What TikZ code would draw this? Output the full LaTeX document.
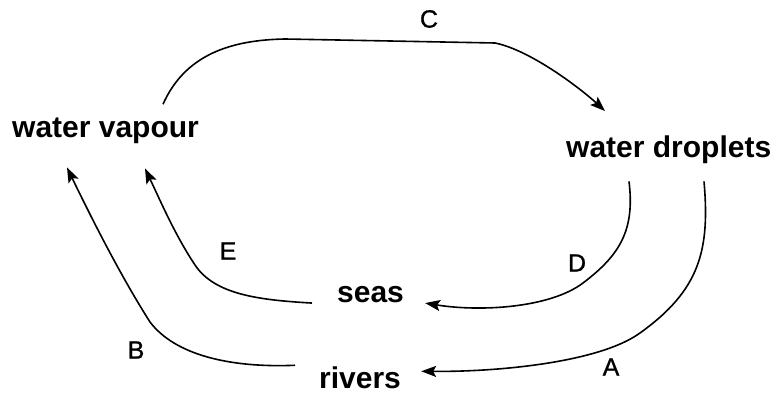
\documentclass[tikz,border=0pt]{standalone}
\usepackage{fontspec}
\setmainfont{Liberation Sans}
\newfontfamily\labfont[FakeBold=1]{Liberation Sans}
\usetikzlibrary{arrows.meta,calc}
\begin{document}
\begin{tikzpicture}[x=1pt,y=-1pt,
  term/.style={font=\fontsize{30}{30}\selectfont\bfseries, inner sep=0pt, anchor=base west},
  lab/.style={font=\labfont\fontsize{25}{25}\selectfont, inner sep=0pt},
  flow/.style={line width=1.6pt, -{Stealth[length=15pt,width=11pt,inset=3pt]}}]
\useasboundingbox (0,0) rectangle (776,395);
\node[term] (vap) at (12,138) {water vapour};
\node[term] (drop) at (566,158) {water droplets};
\node[term] (seas) at (337,302) {seas};
\node[term] (riv) at (319,388) {rivers};
\node[lab] (C) at (429,19) {C};
\node[lab] (D) at (577,263) {D};
\node[lab] (A) at (611,367) {A};
\node[lab] (E) at (228,251) {E};
\node[lab] (B) at (136,350) {B};
% C
\draw[flow] ($(vap.north west)+(151,-14)$) .. controls (185,55) and (230,40) .. (285,39)
  -- (495,43) .. controls (530,50) and (580,88) .. ($(drop.north west)+(39,-25)$);
% D
\draw[flow] ($(drop.south west)+(63,17)$) .. controls (635,230) and (620,255) .. (583,283)
  .. controls (550,308) and (480,312) .. ($(seas.east)+(21,9)$);
% A
\draw[flow] ($(drop.south west)+(138,17)$) .. controls (710,250) and (700,290) .. (640,333)
  .. controls (600,362) and (500,372) .. ($(riv.east)+(20,-6)$);
% E
\draw[flow] ($(seas.west)+(-25,9)$) .. controls (260,300) and (215,295) .. (195,265)
  .. controls (175,235) and (160,200) .. ($(vap.south west)+(133,24)$);
% B
\draw[flow] ($(riv.west)+(-24,-12)$) .. controls (230,368) and (175,355) .. (150,322)
  .. controls (120,275) and (90,215) .. ($(vap.south west)+(55,23)$);
\end{tikzpicture}
\end{document}
